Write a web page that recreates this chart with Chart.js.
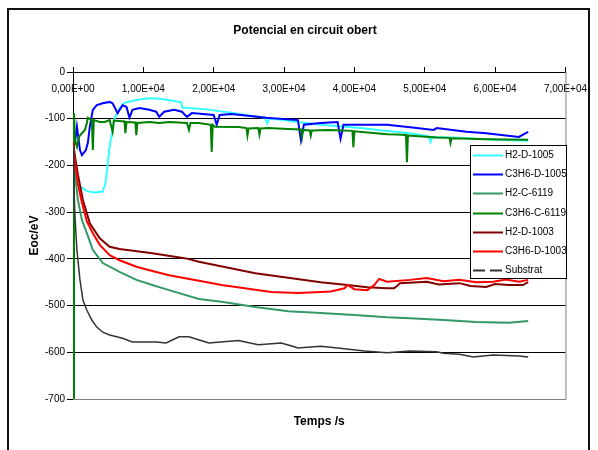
<!DOCTYPE html>
<html>
<head>
<meta charset="utf-8">
<script src="https://cdn.jsdelivr.net/npm/chart.js@4.4.1/dist/chart.umd.min.js"></script>
<style>
  body { margin: 0; background: #fff; }
  canvas { display: block; }
</style>
</head>
<body>
<canvas id="chart" width="598" height="450"></canvas>
<script>
// ================================
//            DATA
// ================================
// [temps (s), Eoc (mV)]
const h2D1005 = [
  [300,-225],[1000,-245],[2000,-255],[3000,-258],[4200,-256],[4600,-240],[4900,-200],[5200,-160],
  [5500,-135],[5900,-100],[6600,-78],[7300,-66],[9000,-60],[10800,-56],[12700,-58],[15400,-65],
  [15500,-76],[19000,-80],[22500,-87],[25000,-93],[27300,-98],[27600,-110],[27900,-100],[30000,-103],
  [32400,-108],[36000,-114],[40800,-120],[44000,-125],[47900,-131],[50600,-138],[50800,-150],
  [51100,-139],[55000,-141],[60000,-145],[64700,-147]
];
const c3h6D1005 = [
  [0,-150],[280,-152],[560,-117],[990,-167],[1270,-178],[1830,-167],[2110,-152],[2390,-117],
  [2820,-81],[3380,-71],[4230,-67],[5210,-64],[5630,-67],[6340,-88],[7040,-71],[7610,-75],
  [8030,-98],[8450,-81],[9440,-77],[10850,-81],[11830,-85],[12250,-96],[12960,-85],[14370,-81],
  [15490,-85],[16200,-96],[16900,-88],[20000,-92],[20420,-113],[20850,-92],[22540,-90],[27470,-98],
  [31970,-103],[32400,-146],[32820,-113],[35210,-109],[37610,-107],[38030,-143],[38450,-113],
  [44650,-113],[48870,-120],[51270,-124],[51700,-120],[55920,-128],[58730,-131],[63380,-139],
  [64700,-128]
];
const h2C6119 = [
  [0,-150],[300,-220],[700,-274],[1270,-317],[1970,-345],[2820,-381],[4230,-409],[6620,-428],
  [9010,-445],[11270,-456],[13660,-467],[17890,-486],[21130,-492],[25920,-503],[30560,-512],
  [35210,-516],[40000,-520],[44650,-525],[47890,-527],[52680,-531],[57330,-535],[61970,-537],
  [64700,-533]
];
const c3h6C6119 = [
  [0,-700],[140,-88],[280,-146],[560,-160],[850,-139],[1270,-131],[1690,-124],[1970,-109],
  [2110,-98],[2680,-103],[2820,-167],[2960,-103],[3800,-107],[4510,-107],[5210,-103],[5630,-128],
  [5800,-104],[7320,-106],[7450,-131],[7600,-107],[8870,-108],[9000,-135],[9150,-109],[10850,-107],
  [12250,-109],[13660,-107],[16200,-109],[16480,-124],[16700,-109],[17890,-109],[19580,-113],
  [19720,-171],[19860,-113],[20140,-117],[23520,-118],[24650,-120],[24800,-136],[24950,-121],
  [26340,-120],[26500,-134],[26650,-121],[27750,-120],[30560,-122],[32400,-123],[32550,-140],
  [32700,-124],[33660,-125],[33800,-136],[33950,-125],[36500,-124],[39720,-126],[39850,-161],
  [40000,-127],[44650,-133],[46060,-134],[47330,-135],[47470,-193],[47610,-136],[51690,-140],
  [53520,-141],[53660,-152],[53800,-142],[58730,-144],[64700,-145]
];
const h2D1003 = [
  [0,-150],[280,-180],[700,-220],[1410,-274],[2390,-324],[3800,-356],[5210,-374],[6620,-379],
  [11270,-388],[16060,-399],[17890,-406],[25920,-431],[35210,-450],[39010,-456],[41830,-461],
  [44650,-463],[45630,-463],[46060,-458],[46480,-452],[50280,-449],[52000,-455],[54930,-452],
  [56500,-458],[58730,-460],[60000,-454],[61970,-456],[63950,-456],[64700,-450]
];
const c3h6D1003 = [
  [0,-150],[280,-190],[700,-240],[1270,-280],[1970,-320],[2820,-345],[3800,-370],[5210,-392],
  [6620,-403],[9010,-417],[11270,-426],[13660,-435],[17890,-447],[21130,-456],[28170,-471],
  [31970,-473],[35210,-471],[36620,-470],[38590,-463],[39010,-456],[40000,-465],[41830,-467],
  [42820,-456],[43520,-443],[44650,-449],[47890,-445],[50280,-441],[52680,-448],[54930,-445],
  [57330,-450],[59720,-449],[61550,-444],[63380,-449],[64700,-445]
];
const substrat = [
  [0,-160],[140,-250],[280,-310],[560,-381],[990,-445],[1410,-488],[1970,-510],[2680,-531],
  [3380,-546],[4230,-557],[5210,-563],[7040,-570],[8450,-578],[11830,-578],[13240,-580],
  [15070,-567],[16480,-567],[18870,-578],[19300,-580],[23520,-575],[26340,-584],[29580,-580],
  [30990,-586],[31970,-591],[35210,-587],[37610,-591],[41410,-597],[44650,-601],[47890,-597],
  [51690,-599],[52680,-602],[54930,-604],[56900,-610],[59720,-606],[63380,-608],[64700,-610]
];

const seriesNames = ["H2-D-1005", "C3H6-D-1005", "H2-C-6119", "C3H6-C-6119", "H2-D-1003", "C3H6-D-1003", "Substrat"];
const seriesData = [h2D1005, c3h6D1005, h2C6119, c3h6C6119, h2D1003, c3h6D1003, substrat];
const seriesColors = ["#33ffff", "#0000ff", "#339966", "#008000", "#800000", "#ff0000", "#333333"];

const FONT = "'Liberation Sans', Arial, sans-serif";

// ================================
//        HELPERS / PLUGINS
// ================================
function sci(v) {
  if (v === 0) return "0,00E+00";
  const exp = Math.floor(Math.log10(Math.abs(v)));
  const man = (v / Math.pow(10, exp)).toFixed(2).replace(".", ",");
  return man + "E" + (exp < 0 ? "-" : "+") + String(Math.abs(exp)).padStart(2, "0");
}

// chart frame + title
const framePlugin = {
  id: "frame",
  beforeDraw(chart) {
    const ctx = chart.ctx;
    ctx.save();
    ctx.fillStyle = "#fff";
    ctx.fillRect(0, 0, chart.width, chart.height);
    ctx.strokeStyle = "#111";
    ctx.lineWidth = 2;
    ctx.strokeRect(8, 9, 581, 460);
    ctx.fillStyle = "#000";
    ctx.font = "bold 12px " + FONT;
    ctx.textAlign = "center";
    ctx.textBaseline = "middle";
    ctx.fillText("Potencial en circuit obert", 305, 31);
    ctx.restore();
  },
  beforeDatasetsDraw(chart) {
    // grey plot-area border, right and bottom
    const { left, right, top, bottom } = chart.chartArea;
    const ctx = chart.ctx;
    ctx.save();
    ctx.strokeStyle = "#808080";
    ctx.lineWidth = 1;
    ctx.beginPath();
    ctx.moveTo(right + 0.5, top);
    ctx.lineTo(right + 0.5, bottom + 0.5);
    ctx.lineTo(left, bottom + 0.5);
    ctx.stroke();
    ctx.restore();
  }
};

// legend box inside the plot
const legendBox = { x: 470, y: 145, w: 96, h: 133, row0: 155, rowStep: 19.2 };
const legendPlugin = {
  id: "boxLegend",
  afterDatasetsDraw(chart) {
    const ctx = chart.ctx;
    const b = legendBox;
    ctx.save();
    ctx.fillStyle = "#fff";
    ctx.fillRect(b.x, b.y, b.w, b.h);
    ctx.strokeStyle = "#000";
    ctx.lineWidth = 1;
    ctx.strokeRect(b.x + 0.5, b.y + 0.5, b.w, b.h);
    ctx.font = "10px " + FONT;
    ctx.textBaseline = "middle";
    ctx.textAlign = "left";
    chart.data.datasets.forEach((ds, i) => {
      const y = Math.round(b.row0 + i * b.rowStep) + 0.5;
      ctx.strokeStyle = ds.borderColor;
      ctx.lineWidth = 2;
      ctx.setLineDash(ds.label === "Substrat" ? [12, 5] : []);
      ctx.beginPath();
      ctx.moveTo(b.x + 3, y);
      ctx.lineTo(b.x + 33, y);
      ctx.stroke();
      ctx.setLineDash([]);
      ctx.fillStyle = "#000";
      ctx.fillText(ds.label, b.x + 35, y);
    });
    ctx.restore();
  }
};

// ================================
//            CHART
// ================================
new Chart(document.getElementById("chart"), {
  type: "line",
  data: {
    datasets: seriesNames.map((name, i) => ({
      label: name,
      data: seriesData[i].map((p) => ({ x: p[0], y: p[1] })),
      borderColor: seriesColors[i],
      backgroundColor: seriesColors[i],
      borderWidth: name === "Substrat" ? 1.5 : 2,
      pointRadius: 0,
      tension: 0,
      fill: false,
      order: seriesNames.length - i,
    })),
  },
  options: {
    responsive: false,
    animation: false,
    layout: { padding: { left: 0, top: 0, right: 28, bottom: 0 } },
    plugins: {
      legend: { display: false },
      tooltip: { enabled: false },
      title: { display: false },
    },
    scales: {
      x: {
        type: "linear",
        position: "top",
        min: 0,
        max: 70000,
        afterFit: (s) => { s.height = 72; },
        ticks: {
          stepSize: 10000,
          autoSkip: false,
          maxRotation: 0,
          mirror: true,
          padding: 11,
          color: "#000",
          font: { family: FONT, size: 10 },
          callback: (v) => sci(v),
        },
        grid: { drawOnChartArea: false, drawTicks: true, tickLength: 5, color: "#000" },
        border: { display: true, color: "#000" },
      },
      xb: {
        type: "linear",
        position: "bottom",
        afterFit: (s) => { s.height = 51; },
        ticks: { display: false },
        grid: { display: false },
        border: { display: false },
        title: {
          display: true,
          text: "Temps /s",
          color: "#000",
          font: { family: FONT, size: 12, weight: "bold" },
          padding: { top: 0, bottom: 21 },
        },
      },
      y: {
        type: "linear",
        position: "left",
        min: -700,
        max: 0,
        afterFit: (s) => { s.width = 73; },
        ticks: {
          stepSize: 100,
          padding: 2,
          color: "#000",
          font: { family: FONT, size: 10 },
        },
        grid: {
          color: (c) => (c.tick && c.tick.value === -700 ? "rgba(0,0,0,0)" : "#000"),
          tickColor: "#000",
          tickLength: 6,
          lineWidth: 1,
        },
        border: { display: true, color: "#000" },
        title: {
          display: true,
          text: "Eoc/eV",
          color: "#000",
          font: { family: FONT, size: 12, weight: "bold" },
          padding: { top: 27, bottom: 0 },
        },
      },
    },
  },
  plugins: [framePlugin, legendPlugin],
});
</script>
</body>
</html>
